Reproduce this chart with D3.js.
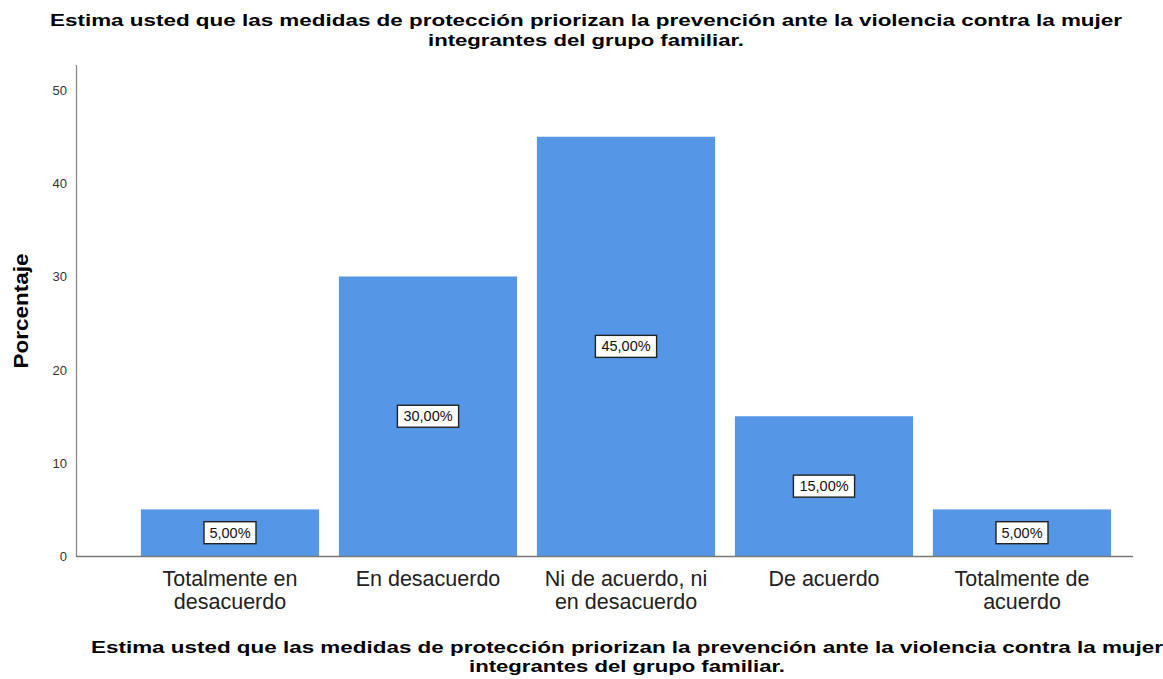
<!DOCTYPE html>
<html><head><meta charset="utf-8">
<script src="https://cdn.jsdelivr.net/npm/d3@7"></script>
<style>body{margin:0;background:#fff}svg{display:block}</style>
</head><body>
<svg id="chart" width="1163" height="679"></svg>
<script>
const categories = [["Totalmente en","desacuerdo"],["En desacuerdo"],["Ni de acuerdo, ni","en desacuerdo"],["De acuerdo"],["Totalmente de","acuerdo"]];
const values = [5, 30, 45, 15, 5];
const valueLabels = ["5,00%","30,00%","45,00%","15,00%","5,00%"];
const yTicks = [0,10,20,30,40,50];
const titleLines = ["Estima usted que las medidas de protección priorizan la prevención ante la violencia contra la mujer","integrantes del grupo familiar."];
const titleWidths = [1072, 316];
const yLabel = "Porcentaje";

const svg = d3.select("#chart");
const font = "'Liberation Sans', Arial, sans-serif";
const x = d3.scaleBand().domain(d3.range(values.length)).range([131,1121]).paddingInner(0.1).paddingOuter(0.05);
const y = d3.scaleLinear().domain([0,52.7]).range([556,65]);

// title
svg.append("text").attr("text-anchor","middle").attr("font-family",font).attr("font-weight","bold").attr("font-size",17)
  .selectAll("tspan").data(titleLines).join("tspan").attr("x",586).attr("y",(d,i)=>26+i*19.5)
  .attr("textLength",(d,i)=>titleWidths[i]).attr("lengthAdjust","spacingAndGlyphs").text(d=>d);

// bars
svg.append("g").selectAll("rect").data(values).join("rect")
  .attr("x",(d,i)=>x(i)).attr("width",x.bandwidth())
  .attr("y",d=>y(d)).attr("height",d=>y(0)-y(d)).attr("fill","#5596e6");

// axes lines
svg.append("line").attr("x1",76.5).attr("x2",76.5).attr("y1",65).attr("y2",556.5).attr("stroke","#888").attr("stroke-width",1.3);
svg.append("line").attr("x1",76).attr("x2",1133).attr("y1",556.5).attr("y2",556.5).attr("stroke","#777").attr("stroke-width",1.3);

// y ticks
svg.append("g").selectAll("text").data(yTicks).join("text")
  .attr("x",67).attr("y",d=>y(d)+5).attr("text-anchor","end").attr("font-family",font).attr("font-size",13).attr("fill","#333").text(d=>d);

// y label
svg.append("text").attr("transform","translate(28,311) rotate(-90)").attr("text-anchor","middle")
  .attr("font-family",font).attr("font-weight","bold").attr("font-size",20)
  .attr("textLength",115).attr("lengthAdjust","spacingAndGlyphs").text(yLabel);

// x labels
svg.append("g").selectAll("text").data(categories).join("text")
  .attr("text-anchor","middle").attr("font-family",font).attr("font-size",21.5).attr("fill","#222")
  .each(function(d,i){
    d3.select(this).selectAll("tspan").data(d).join("tspan").attr("x",x(i)+x.bandwidth()/2).attr("y",(t,j)=>586+j*23).text(t=>t);
  });

// value labels
const lg = svg.append("g").selectAll("g").data(values).join("g")
  .attr("transform",(d,i)=>`translate(${x(i)+x.bandwidth()/2},${(y(d)+y(0))/2})`);
lg.append("rect").attr("x",(d,i)=>-(valueLabels[i].length*4.6+3)).attr("y",-11).attr("width",(d,i)=>valueLabels[i].length*9.2+6).attr("height",22)
  .attr("fill","#fff").attr("stroke","#222").attr("stroke-width",1.4);
lg.append("text").attr("text-anchor","middle").attr("y",5).attr("font-family",font).attr("font-size",14.5).attr("fill","#111").text((d,i)=>valueLabels[i]);

// bottom title
svg.append("text").attr("text-anchor","middle").attr("font-family",font).attr("font-weight","bold").attr("font-size",17)
  .selectAll("tspan").data(titleLines).join("tspan").attr("x",627).attr("y",(d,i)=>653+i*19)
  .attr("textLength",(d,i)=>titleWidths[i]).attr("lengthAdjust","spacingAndGlyphs").text(d=>d);
</script>
</body></html>
